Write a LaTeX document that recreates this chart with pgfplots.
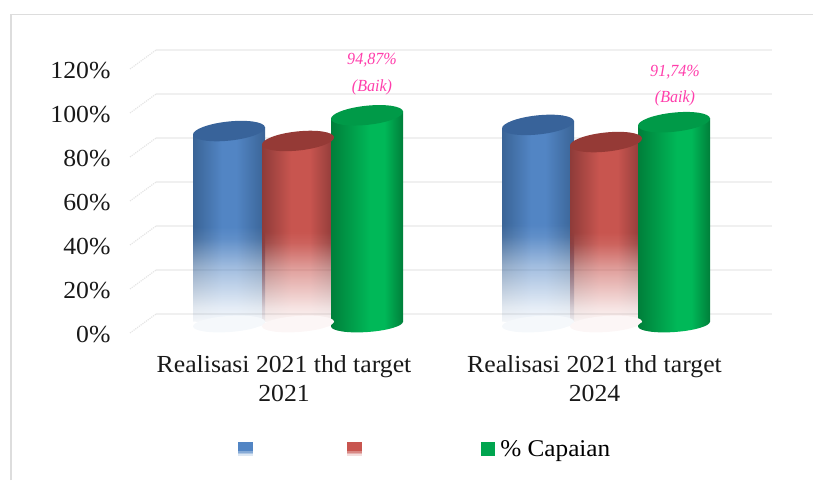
\documentclass[border=0pt]{standalone}
\usepackage{pgfplots}
\pgfplotsset{compat=1.18}
\usepackage{fontspec}
\setmainfont[FakeStretch=1.05]{Liberation Serif}
\usetikzlibrary{fadings}

\definecolor{gridc}{HTML}{F0F0F0}
\definecolor{framec}{HTML}{DDDDDD}
\definecolor{pinkc}{HTML}{FF3DAB}
\definecolor{bluetop}{HTML}{38639A}
\definecolor{redtop}{HTML}{953A36}
\definecolor{greentop}{HTML}{009A48}
\definecolor{bluemid}{HTML}{5285C4}
\definecolor{blueedge}{HTML}{3A6496}
\definecolor{redmid}{HTML}{C8554F}
\definecolor{rededge}{HTML}{8E3B39}
\definecolor{greenmid}{HTML}{00B858}
\definecolor{greenedge}{HTML}{007F3A}

\pgfdeclarehorizontalshading{cylblue}{100bp}{color(0bp)=(blueedge); color(25bp)=(blueedge); color(45bp)=(bluemid); color(55bp)=(bluemid); color(75bp)=(blueedge); color(100bp)=(blueedge)}
\pgfdeclarehorizontalshading{cylred}{100bp}{color(0bp)=(rededge); color(25bp)=(rededge); color(45bp)=(redmid); color(58bp)=(redmid); color(75bp)=(rededge); color(100bp)=(rededge)}
\pgfdeclarehorizontalshading{cylgreen}{100bp}{color(0bp)=(greenedge); color(25bp)=(greenedge); color(52bp)=(greenmid); color(62bp)=(greenmid); color(75bp)=(greenedge); color(100bp)=(greenedge)}

% blue and red run out to white towards the floor
\pgfdeclareverticalshading{fadesh}{100bp}{color(0bp)=(black!98); color(25bp)=(black!98); color(30bp)=(black!84); color(40bp)=(black!45); color(47bp)=(black!8); color(50bp)=(black!0); color(100bp)=(black!0)}
\pgfdeclarefading{cylfade}{\pgfuseshading{fadesh}}

\pgfdeclareplotmark{cyltop}{\pgfpathellipse{\pgfpointorigin}{\pgfqpoint{36pt}{3.8pt}}{\pgfqpoint{-1pt}{9.5pt}}\pgfusepathqfill}
\pgfdeclareplotmark{cylbase}{\pgfpathellipse{\pgfpointorigin}{\pgfqpoint{36pt}{2.5pt}}{\pgfqpoint{-.6pt}{8pt}}\pgfusepathqfill}
\pgfdeclareplotmark{greenbase}{\pgfpathellipse{\pgfpointorigin}{\pgfqpoint{36pt}{2.5pt}}{\pgfqpoint{-.6pt}{8pt}}\pgfshadepath{cylgreen}{0}\pgfusepath{discard}}

\begin{document}
\begin{tikzpicture}
\path[use as bounding box] (0,0) rectangle (813pt,480pt);
\draw[framec,line width=2pt] (11pt,0) -- (11pt,465pt);
\draw[framec,line width=1pt] (10pt,465pt) -- (813pt,465pt);
\begin{axis}[
  at={(156pt,166pt)}, anchor=south west,
  scale only axis, width=616pt, height=264pt,
  xmin=156, xmax=772, ymin=0, ymax=120,
  clip=false,
  axis line style={draw=none},
  major tick length=0pt,
  ymajorgrids, grid style={gridc,line width=2pt},
  ytick={0,20,40,60,80,100,120},
  yticklabels={0\%,20\%,40\%,60\%,80\%,100\%,120\%},
  xtick={284,594.5},
  xticklabels={{Realisasi 2021 thd target\\2021},{Realisasi 2021 thd target\\2024}},
  tick label style={font=\fontsize{24.5}{29}\selectfont,text=black!90},
  yticklabel style={anchor=east,xshift=-42pt,yshift=-21pt},
  xticklabel style={align=center,anchor=north,yshift=-38pt},
  legend style={at={(0,0)},anchor=north west,xshift=79pt,yshift=-122pt,draw=none,fill=none,
    legend columns=3,font=\fontsize{24}{29}\selectfont,
    /tikz/every even column/.append style={column sep=0pt}},
]
% side walls of the box
\pgfplotsinvokeforeach{0,20,40,60,80,100,120}{
  \addplot[forget plot,densely dotted,black!10,line width=1.2pt] coordinates {(130,#1-8.64) (156,#1)};
}

% blue
\addplot[forget plot,only marks,yshift=-10pt,mark=cylbase,mark options={fill=bluemid!6}] coordinates {(229,0) (538,0)};
\addplot[forget plot,draw=none,shade,shading=cylblue,path fading=cylfade,yshift=-10pt] coordinates {(193,85.9) (265,89.5) (265,-1.1) (193,1.1)};
\addplot[forget plot,draw=none,shade,shading=cylblue,path fading=cylfade,yshift=-10pt] coordinates {(502,88.7) (574,92.3) (574,-1.1) (502,1.1)};
\addplot[forget plot,only marks,yshift=-10pt,mark=cyltop,mark options={fill=bluetop}] coordinates {(229,87.7) (538,90.5)};

% red
\addplot[forget plot,only marks,yshift=-10pt,mark=cylbase,mark options={fill=redmid!5}] coordinates {(298,0) (606,0)};
\addplot[forget plot,draw=none,shade,shading=cylred,path fading=cylfade,yshift=-10pt] coordinates {(262,81.4) (334,85) (334,-1.1) (262,1.1)};
\addplot[forget plot,draw=none,shade,shading=cylred,path fading=cylfade,yshift=-10pt] coordinates {(570,80.9) (642,84.5) (642,-1.1) (570,1.1)};
\addplot[forget plot,only marks,yshift=-10pt,mark=cyltop,mark options={fill=redtop}] coordinates {(298,83.2) (606,82.7)};

% green
\addplot[forget plot,only marks,yshift=-10pt,mark=greenbase] coordinates {(367,0) (674,0)};
\addplot[forget plot,draw=none,shade,shading=cylgreen,yshift=-10pt] coordinates {(331,93.07) (403,96.67) (403,1.1) (331,-1.1)};
\addplot[forget plot,draw=none,shade,shading=cylgreen,yshift=-10pt] coordinates {(638,89.94) (710,93.54) (710,1.1) (638,-1.1)};
\addplot[forget plot,only marks,yshift=-10pt,mark=cyltop,mark options={fill=greentop}] coordinates {(367,94.87) (674,91.74)};

\addlegendimage{legend image code/.code={\fill[bluemid] (0pt,-2pt) rectangle (14pt,6.5pt);\fill[bluemid!70] (0pt,-4pt) rectangle (14pt,-2pt);\fill[bluemid!45] (0pt,-5.5pt) rectangle (14pt,-4pt);\fill[bluemid!20] (0pt,-6.5pt) rectangle (14pt,-5.5pt);}}
\addlegendentry{\hspace*{90pt}}
\addlegendimage{legend image code/.code={\fill[redmid] (0pt,-2pt) rectangle (14pt,6.5pt);\fill[redmid!70] (0pt,-4pt) rectangle (14pt,-2pt);\fill[redmid!45] (0pt,-5.5pt) rectangle (14pt,-4pt);\fill[redmid!20] (0pt,-6.5pt) rectangle (14pt,-5.5pt);}}
\addlegendentry{\hspace*{116pt}}
\addlegendimage{legend image code/.code={\fill[greenmid!90!black] (0pt,-6.5pt) rectangle (13pt,6.5pt);}}
\addlegendentry{\hspace*{4pt}\% Capaian}

\node[pinkc,transform shape,xscale=.9,font=\fontsize{17}{20}\selectfont\itshape] at (axis cs:372,115.5) {94,87\%};
\node[pinkc,transform shape,xscale=.9,font=\fontsize{17}{20}\selectfont\itshape] at (axis cs:372,103) {(Baik)};
\node[pinkc,transform shape,xscale=.9,font=\fontsize{17}{20}\selectfont\itshape] at (axis cs:675,110) {91,74\%};
\node[pinkc,transform shape,xscale=.9,font=\fontsize{17}{20}\selectfont\itshape] at (axis cs:675,98) {(Baik)};
\end{axis}
\end{tikzpicture}
\end{document}
